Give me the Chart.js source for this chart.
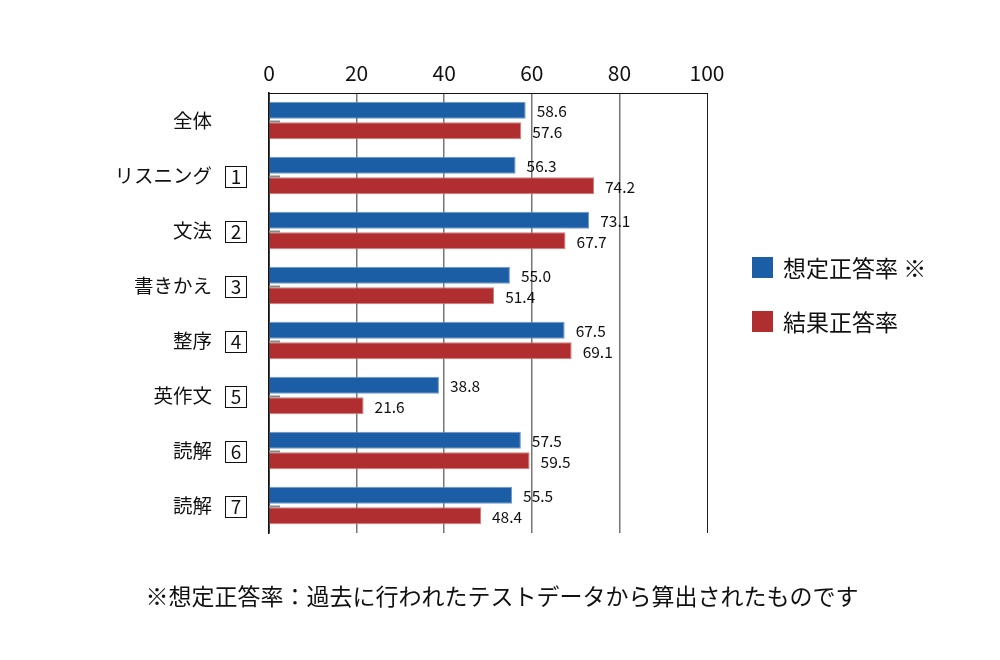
<!DOCTYPE html>
<html><head><meta charset="utf-8">
<script src="https://cdn.jsdelivr.net/npm/chart.js@4/dist/chart.umd.min.js"></script>
<style>
html,body{margin:0;padding:0;background:#fff;}
#wrap{position:relative;width:1000px;height:660px;}
</style></head>
<body><div id="wrap"><canvas id="c" width="1000" height="660"></canvas></div>
<script>
const categories = ["全体","リスニング","文法","書きかえ","整序","英作文","読解","読解"];
const boxNumbers = ["","1","2","3","4","5","6","7"];
const assumedRate = [58.6,56.3,73.1,55.0,67.5,38.8,57.5,55.5];
const resultRate = [57.6,74.2,67.7,51.4,69.1,21.6,59.5,48.4];
const seriesNames = ["想定正答率 ※","結果正答率"];
const xTicks = [0,20,40,60,80,100];
const footnote = "※想定正答率：過去に行われたテストデータから算出されたものです";

const FONT = "'Noto Sans CJK JP', 'Noto Sans', sans-serif";
const BLUE = "#1b5ea6", RED = "#b02e2f";

const extras = {
  id:'extras',
  afterDatasetsDraw(chart){
    const ctx = chart.ctx, y = chart.scales.y, x = chart.scales.x;
    ctx.save();
    // value labels
    chart.data.datasets.forEach((ds,di)=>{
      const meta = chart.getDatasetMeta(di);
      meta.data.forEach((bar,i)=>{
        ctx.font = "15.5px " + FONT;
        ctx.fillStyle = "#111";
        ctx.textAlign = "left"; ctx.textBaseline = "middle";
        ctx.fillText(ds.data[i].toFixed(1), bar.x + 11, bar.y + 1);
      });
    });
    // small ticks at category centres
    ctx.strokeStyle = "#888"; ctx.lineWidth = 2;
    categories.forEach((c,i)=>{
      const py = Math.round(y.getPixelForValue(i));
      ctx.beginPath(); ctx.moveTo(x.left, py+0.5); ctx.lineTo(x.left+11, py+0.5); ctx.stroke();
    });
    // boxed numbers
    ctx.strokeStyle = "#111"; ctx.lineWidth = 1;
    ctx.font = "19px " + FONT; ctx.fillStyle = "#111";
    ctx.textAlign = "center"; ctx.textBaseline = "middle";
    boxNumbers.forEach((n,i)=>{
      if(!n) return;
      const py = y.getPixelForValue(i);
      ctx.strokeRect(225.5, Math.round(py-10)+0.5, 21, 21);
      ctx.fillText(n, 236, py+1);
    });
    // legend
    const cols = [BLUE, RED];
    seriesNames.forEach((s,i)=>{
      const ly = 267 + i*54;
      ctx.fillStyle = cols[i];
      ctx.fillRect(752, ly-10, 21, 21);
      ctx.fillStyle = "#111"; ctx.textAlign = "left";
      ctx.font = "23px " + FONT;
      ctx.fillText(s, 783, ly+1);
    });
    // footnote
    ctx.textAlign = "center"; ctx.font = "23px " + FONT; ctx.fillStyle = "#111";
    ctx.fillText(footnote, 502, 596);
    ctx.restore();
  }
};

new Chart(document.getElementById('c'), {
  type:'bar',
  data:{
    labels: categories,
    datasets:[
      {label:seriesNames[0], data:assumedRate, backgroundColor:BLUE, borderColor:"#6d98c9", borderWidth:1},
      {label:seriesNames[1], data:resultRate, backgroundColor:RED, borderColor:"#cf7d7d", borderWidth:1}
    ]
  },
  options:{
    indexAxis:'y',
    responsive:false,
    animation:false,
    devicePixelRatio:1,
    categoryPercentage:0.75,
    barPercentage:0.83,
    layout:{padding:{left:0,right:293,top:0,bottom:127}},
    plugins:{legend:{display:false}, tooltip:{enabled:false}},
    scales:{
      x:{
        position:'top', min:0, max:100,
        afterBuildTicks(s){ s.ticks = xTicks.map(v=>({value:v})); },
        afterFit(s){ s.height = 93; },
        ticks:{font:{size:21,family:FONT}, color:"#111", padding:7, maxRotation:0},
        grid:{
          drawTicks:false,
          color:(c)=> (c.tick && c.tick.value===100) ? "#222" : "#777",
          lineWidth:(c)=> (c.tick && (c.tick.value===100||c.tick.value===0)) ? 1 : 1.5
        },
        border:{display:true, color:"#111", width:1}
      },
      y:{
        afterFit(s){ s.width = 269; },
        ticks:{font:{size:19.5,family:FONT}, color:"#111", padding:57},
        grid:{display:false, drawTicks:false},
        border:{display:true, color:"#111", width:1.5}
      }
    }
  },
  plugins:[extras]
});
</script></body></html>
